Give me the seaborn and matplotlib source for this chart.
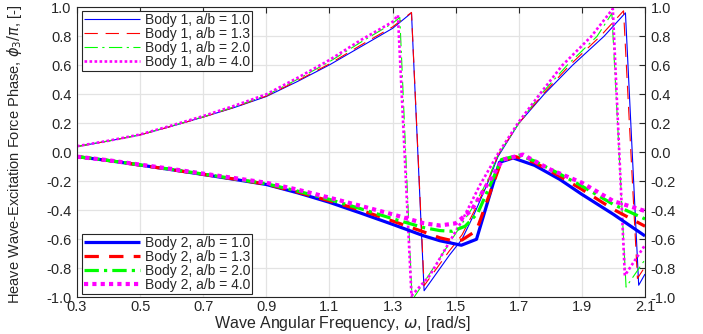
import numpy as np
import pandas as pd
import matplotlib
matplotlib.use("Agg")
import matplotlib.pyplot as plt
import seaborn as sns

# ---------------- data ----------------
labels_b1 = ["Body 1, a/b = 1.0", "Body 1, a/b = 1.3", "Body 1, a/b = 2.0", "Body 1, a/b = 4.0"]
labels_b2 = ["Body 2, a/b = 1.0", "Body 2, a/b = 1.3", "Body 2, a/b = 2.0", "Body 2, a/b = 4.0"]

b1_ab10_w = [0.3, 0.4, 0.5, 0.6, 0.7, 0.8, 0.9, 1.0, 1.1, 1.2, 1.3, 1.36, 1.40, 1.48, 1.52, 1.56, 1.60, 1.634, 1.70, 1.78, 1.87, 1.97, 2.038, 2.08, 2.10]
b1_ab10_p = [0.04, 0.078, 0.12, 0.18, 0.243, 0.31, 0.385, 0.49, 0.603, 0.729, 0.855, 0.962, -0.955, -0.71, -0.60, -0.42, -0.22, -0.03, 0.20, 0.40, 0.60, 0.80, 0.962, -0.917, -0.84]

b1_ab13_w = [0.3, 0.4, 0.5, 0.6, 0.7, 0.8, 0.9, 1.0, 1.1, 1.2, 1.3, 1.36, 1.40, 1.48, 1.52, 1.56, 1.60, 1.634, 1.70, 1.78, 1.861, 1.958, 2.032, 2.076, 2.10]
b1_ab13_p = [0.04, 0.078, 0.12, 0.18, 0.243, 0.312, 0.388, 0.495, 0.61, 0.74, 0.865, 0.965, -0.92, -0.68, -0.57, -0.40, -0.21, -0.02, 0.20, 0.41, 0.60, 0.80, 0.976, -0.87, -0.79]

b1_ab20_w = [0.3, 0.4, 0.5, 0.6, 0.7, 0.8, 0.9, 1.0, 1.1, 1.2, 1.3, 1.323, 1.362, 1.42, 1.50, 1.56, 1.60, 1.634, 1.70, 1.77, 1.853, 1.948, 1.995, 2.04, 2.10]
b1_ab20_p = [0.04, 0.079, 0.121, 0.182, 0.245, 0.315, 0.393, 0.505, 0.625, 0.76, 0.89, 0.93, -1.02, -0.83, -0.56, -0.36, -0.20, -0.02, 0.20, 0.40, 0.60, 0.80, 0.958, -0.93, -0.74]

b1_ab40_w = [0.3, 0.4, 0.5, 0.6, 0.7, 0.8, 0.9, 1.0, 1.1, 1.2, 1.3, 1.317, 1.36, 1.418, 1.523, 1.576, 1.634, 1.70, 1.766, 1.838, 1.93, 1.998, 2.036, 2.10]
b1_ab40_p = [0.042, 0.08, 0.123, 0.185, 0.25, 0.322, 0.40, 0.515, 0.637, 0.775, 0.90, 0.946, -0.99, -0.85, -0.46, -0.23, -0.01, 0.21, 0.40, 0.60, 0.80, 0.99, -0.85, -0.64]

b2_ab10_w = [0.3, 0.4, 0.5, 0.6, 0.7, 0.8, 0.9, 1.0, 1.1, 1.2, 1.3, 1.4, 1.45, 1.518, 1.566, 1.639, 1.682, 1.75, 1.83, 1.9, 2.0, 2.1]
b2_ab10_p = [-0.03, -0.057, -0.088, -0.12, -0.153, -0.187, -0.222, -0.28, -0.345, -0.42, -0.497, -0.577, -0.61, -0.641, -0.60, -0.069, -0.039, -0.09, -0.187, -0.29, -0.428, -0.577]

b2_ab13_w = [0.3, 0.4, 0.5, 0.6, 0.7, 0.8, 0.9, 1.0, 1.1, 1.2, 1.3, 1.4, 1.45, 1.49, 1.52, 1.566, 1.645, 1.69, 1.75, 1.83, 1.9, 2.0, 2.1]
b2_ab13_p = [-0.03, -0.057, -0.088, -0.12, -0.152, -0.185, -0.22, -0.275, -0.335, -0.40, -0.474, -0.55, -0.59, -0.61, -0.605, -0.54, -0.06, -0.03, -0.07, -0.165, -0.256, -0.394, -0.51]

b2_ab20_w = [0.3, 0.4, 0.5, 0.6, 0.7, 0.8, 0.9, 1.0, 1.1, 1.2, 1.3, 1.4, 1.45, 1.49, 1.53, 1.57, 1.645, 1.70, 1.75, 1.83, 1.9, 2.0, 2.1]
b2_ab20_p = [-0.03, -0.056, -0.087, -0.118, -0.15, -0.183, -0.217, -0.268, -0.325, -0.39, -0.458, -0.52, -0.54, -0.545, -0.51, -0.42, -0.05, -0.02, -0.06, -0.15, -0.233, -0.36, -0.46]

b2_ab40_w = [0.3, 0.4, 0.5, 0.6, 0.7, 0.8, 0.9, 1.0, 1.1, 1.2, 1.3, 1.4, 1.45, 1.5, 1.55, 1.6, 1.65, 1.713, 1.8, 1.9, 2.0, 2.1]
b2_ab40_p = [-0.03, -0.055, -0.085, -0.115, -0.147, -0.178, -0.21, -0.258, -0.313, -0.37, -0.428, -0.49, -0.505, -0.49, -0.40, -0.22, -0.05, -0.016, -0.119, -0.21, -0.337, -0.405]

xticks = [0.3, 0.5, 0.7, 0.9, 1.1, 1.3, 1.5, 1.7, 1.9, 2.1]
yticks = [-1.0, -0.8, -0.6, -0.4, -0.2, 0.0, 0.2, 0.4, 0.6, 0.8, 1.0]

# ---------------- style ----------------
sns.set_style("white")
plt.rcParams["font.family"] = ["Liberation Sans", "DejaVu Sans"]
plt.rcParams["axes.unicode_minus"] = False
plt.rcParams["mathtext.fontset"] = "dejavusans"

fig = plt.figure(figsize=(7.03, 3.34), dpi=100)
ax = fig.add_axes([0.1095, 0.11, 0.808, 0.868])

colors = ["#0000ff", "#ff0000", "#00ff00", "#ff00ff"]

b1_sets = [(b1_ab10_w, b1_ab10_p), (b1_ab13_w, b1_ab13_p), (b1_ab20_w, b1_ab20_p), (b1_ab40_w, b1_ab40_p)]
b2_sets = [(b2_ab10_w, b2_ab10_p), (b2_ab13_w, b2_ab13_p), (b2_ab20_w, b2_ab20_p), (b2_ab40_w, b2_ab40_p)]

b1_styles = [dict(lw=0.8, ls="-"),
             dict(lw=0.8, ls=(0, (12, 7))),
             dict(lw=0.8, ls=(0, (12, 4, 2, 4))),
             dict(lw=1.9, ls=(0, (1, 0.9)))]
b2_styles = [dict(lw=2.3, ls="-"),
             dict(lw=2.3, ls=(0, (4.5, 3.2))),
             dict(lw=2.3, ls=(0, (4.5, 1.6, 1, 1.6))),
             dict(lw=3.0, ls=(0, (1, 1)))]

def draw(sets, styles, labels):
    handles = []
    for (w, p), c, st, lab in zip(sets, colors, styles, labels):
        df = pd.DataFrame({"w": w, "p": p})
        sns.lineplot(data=df, x="w", y="p", ax=ax, color=c, linewidth=st["lw"],
                     estimator=None, sort=False, label=lab, legend=False)
        ln = ax.lines[-1]
        ln.set_color(c)
        ln.set_linestyle(st["ls"])
        ln.set_linewidth(st["lw"])
        ln.set_solid_capstyle("butt")
        ln.set_dash_capstyle("butt")
        handles.append(ln)
    return handles

h1 = draw(b1_sets, b1_styles, labels_b1)
h2 = draw(b2_sets, b2_styles, labels_b2)

ax.set_xlim(0.3, 2.1)
ax.set_ylim(-1.0, 1.0)
ax.set_xticks(xticks)
ax.set_yticks(yticks)
ax.set_xticklabels([f"{v:.1f}" for v in xticks])
ax.set_yticklabels([f"{v:.1f}" for v in yticks])
ax.grid(True, color="#e3e3e3", lw=0.9)
ax.set_axisbelow(True)
for s in ax.spines.values():
    s.set_color("#262626")
    s.set_linewidth(0.8)
    s.set_visible(True)
ax.tick_params(direction="in", length=4, width=0.8, color="#262626",
               top=True, right=True, labelright=True, labelsize=10.5,
               labelcolor="#262626", pad=4)
ax.tick_params(axis="x", pad=2)

ax.set_xlabel("")
ax.set_ylabel("")
fig.text(0.487, 0.017, r"Wave Angular Frequency, $\omega$, [rad/s]",
         fontsize=11.5, color="#262626", ha="center", va="baseline")
fig.text(0.021, 0.11 + 0.868 / 2 - 0.005, r"Heave Wave-Excitation Force Phase, $\phi_3/\pi$, [-]",
         fontsize=10.5, color="#262626", ha="center", va="center", rotation=90)

leg_kw = dict(fontsize=10, handlelength=4.0, handletextpad=0.35, borderpad=0.15,
              labelspacing=0.0, frameon=True, fancybox=False, framealpha=1,
              edgecolor="#262626", borderaxespad=0.0)
leg1 = ax.legend(handles=h1, labels=labels_b1, loc="upper left", bbox_to_anchor=(0.009, 0.987), **leg_kw)
leg1.get_frame().set_linewidth(0.8)
ax.add_artist(leg1)
leg2 = ax.legend(handles=h2, labels=labels_b2, loc="lower left", bbox_to_anchor=(0.009, 0.011), **leg_kw)
leg2.get_frame().set_linewidth(0.8)

fig.savefig("out.png", dpi=100)
